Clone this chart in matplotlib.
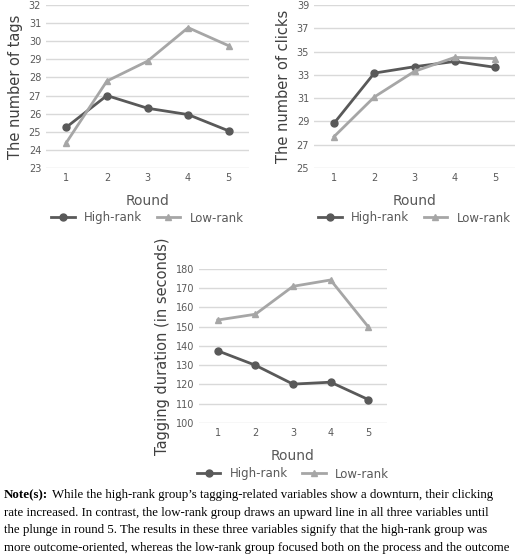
import matplotlib
matplotlib.use("Agg")
import matplotlib.pyplot as plt

rounds = [1, 2, 3, 4, 5]
tags_high = [25.25, 27.0, 26.3, 25.95, 25.05]
tags_low = [24.4, 27.8, 28.9, 30.75, 29.75]
clicks_high = [28.85, 33.15, 33.7, 34.15, 33.65]
clicks_low = [27.7, 31.1, 33.3, 34.5, 34.4]
dur_high = [137.5, 130.0, 120.2, 121.2, 112.2]
dur_low = [153.5, 156.5, 171.0, 174.3, 150.0]

W, H = 520, 559
fig = plt.figure(figsize=(W / 100, H / 100), dpi=100)
plt.rcParams['font.family'] = ['DejaVu Sans']

dark = '#595959'
light = '#a6a6a6'


def panel(x0, x1, ytop, ybot, high, low, ylabel, yticks, legend_y):
    ax = fig.add_axes([x0 / W, 1 - ybot / H, (x1 - x0) / W, (ybot - ytop) / H])
    ax.plot(rounds, high, color=dark, marker='o', ms=5, lw=2, label='High-rank')
    ax.plot(rounds, low, color=light, marker='^', ms=5, lw=2, label='Low-rank')
    ax.set_xlim(0.5, 5.5)
    ax.set_ylim(yticks[0], yticks[-1])
    ax.set_yticks(yticks)
    ax.set_xticks(rounds)
    ax.grid(axis='y', color='#d9d9d9', lw=1)
    ax.set_axisbelow(True)
    for s in ax.spines.values():
        s.set_visible(False)
    ax.tick_params(length=0, labelsize=7, colors='#595959')
    ax.set_ylabel(ylabel, fontsize=10.5, color='#404040')
    ax.set_xlabel('Round', fontsize=10, color='#595959', labelpad=8)
    fig.legend(*ax.get_legend_handles_labels(), loc='center',
               bbox_to_anchor=((x0 + x1) / 2 / W, 1 - legend_y / H), ncol=2,
               frameon=False, fontsize=8.5, labelcolor='#595959',
               handlelength=2.0, columnspacing=1.2)
    return ax


panel(46, 249, 5, 168, tags_high, tags_low, 'The number of tags',
      list(range(23, 33)), 218)
panel(314, 515, 5, 168, clicks_high, clicks_low, 'The number of clicks',
      list(range(25, 40, 2)), 218)
panel(199, 387, 269, 423, dur_high, dur_low, 'Tagging duration (in seconds)',
      list(range(100, 181, 10)), 474)

note = [
    "While the high-rank group\u2019s tagging-related variables show a downturn, their clicking",
    "rate increased. In contrast, the low-rank group draws an upward line in all three variables until",
    "the plunge in round 5. The results in these three variables signify that the high-rank group was",
    "more outcome-oriented, whereas the low-rank group focused both on the process and the outcome",
]
fs = 9.3
fig.text(4 / W, 1 - 495 / H, "Note(s):", fontsize=fs, weight='bold',
         family='Liberation Serif', va='center')
fig.text(52 / W, 1 - 495 / H, note[0], fontsize=fs,
         family='Liberation Serif', va='center')
for i, line in enumerate(note[1:]):
    fig.text(4 / W, 1 - (513 + 17.5 * i) / H, line, fontsize=fs,
             family='Liberation Serif', va='center')

fig.savefig('out.png', dpi=100)
